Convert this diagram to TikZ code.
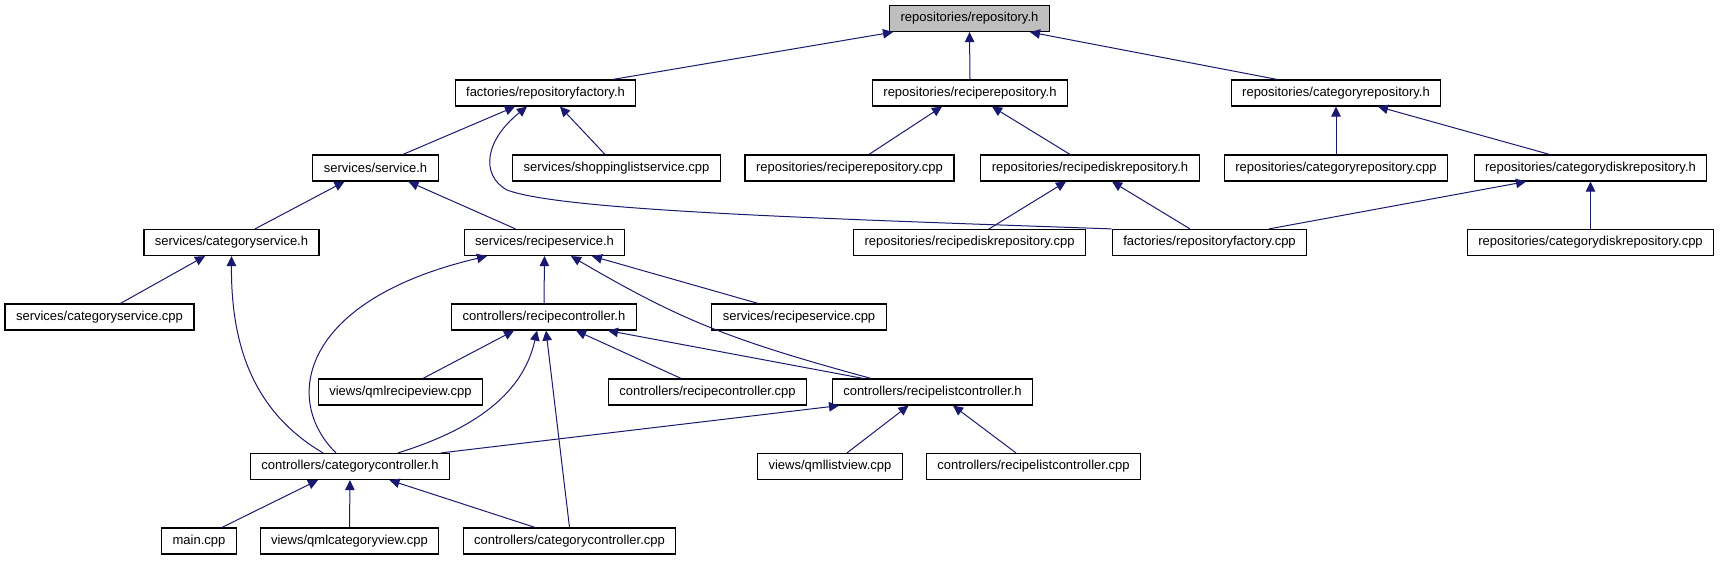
\documentclass[tikz,border=0pt]{standalone}
\usepackage{fontspec}
\setmainfont{Liberation Sans}
\usetikzlibrary{arrows.meta}
\definecolor{edgeblue}{HTML}{191970}
\definecolor{focusgray}{HTML}{BFBFBF}
\begin{document}
\begin{tikzpicture}[x=1pt,y=-1pt,file/.style={rectangle,draw,line width=1.2pt,fill=white,minimum height=26pt,inner xsep=11pt,inner ysep=0pt,font=\fontsize{13}{15}\selectfont},focus/.style={file,fill=focusgray},dep/.style={draw=edgeblue,line width=1pt,-{Triangle[length=10pt,width=9.5pt]}}]
\useasboundingbox (0,0) rectangle (1721,560);
\node[focus] (repo) at (969.5,18.5) {repositories/repository.h};
\node[file] (rfh) at (545.5,93) {factories/repositoryfactory.h};
\node[file] (rrh) at (970,93) {repositories/reciperepository.h};
\node[file] (crh) at (1336,93) {repositories/categoryrepository.h};
\node[file] (svh) at (375.5,168) {services/service.h};
\node[file] (slcpp) at (616.5,168) {services/shoppinglistservice.cpp};
\node[file] (rrcpp) at (849.5,168) {repositories/reciperepository.cpp};
\node[file] (rdrh) at (1090,168) {repositories/recipediskrepository.h};
\node[file] (crcpp) at (1336,168) {repositories/categoryrepository.cpp};
\node[file] (cdrh) at (1590.5,168) {repositories/categorydiskrepository.h};
\node[file] (csh) at (231.5,242.5) {services/categoryservice.h};
\node[file] (rsh) at (544.5,242.5) {services/recipeservice.h};
\node[file] (rdrcpp) at (969.5,242.5) {repositories/recipediskrepository.cpp};
\node[file] (rfcpp) at (1209.5,242.5) {factories/repositoryfactory.cpp};
\node[file] (cdrcpp) at (1590.5,242.5) {repositories/categorydiskrepository.cpp};
\node[file] (cscpp) at (99.5,317) {services/categoryservice.cpp};
\node[file] (rch) at (544,317) {controllers/recipecontroller.h};
\node[file] (rscpp) at (799,317) {services/recipeservice.cpp};
\node[file] (qrv) at (400.5,392) {views/qmlrecipeview.cpp};
\node[file] (rccpp) at (707.5,392) {controllers/recipecontroller.cpp};
\node[file] (rlch) at (932.5,392) {controllers/recipelistcontroller.h};
\node[file] (cch) at (350,466.5) {controllers/categorycontroller.h};
\node[file] (qlv) at (830,466.5) {views/qmllistview.cpp};
\node[file] (rlccpp) at (1033.5,466.5) {controllers/recipelistcontroller.cpp};
\node[file] (maincpp) at (199,541) {main.cpp};
\node[file] (qcv) at (349.5,541) {views/qmlcategoryview.cpp};
\node[file] (cccpp) at (569.5,541) {controllers/categorycontroller.cpp};
% repository headers
\draw[dep] ([xshift=67.5]rfh.north) -- ([xshift=-76.5]repo.south);
\draw[dep] (rrh.north) -- (repo.south);
\draw[dep] ([xshift=-59]crh.north) -- ([xshift=60.5]repo.south);
\draw[dep] ([xshift=19.5]rrcpp.north) -- ([xshift=-28]rrh.south);
\draw[dep] ([xshift=-20]rdrh.north) -- ([xshift=22]rrh.south);
\draw[dep] (crcpp.north) -- (crh.south);
\draw[dep] ([xshift=-41]cdrh.north) -- ([xshift=42]crh.south);
\draw[dep] ([xshift=19.5]rdrcpp.north) -- ([xshift=-24]rdrh.south);
\draw[dep] ([xshift=-19.5]rfcpp.north) -- ([xshift=22]rdrh.south);
\draw[dep] ([xshift=59.5]rfcpp.north) -- ([xshift=-64.5]cdrh.south);
\draw[dep] (cdrcpp.north) -- (cdrh.south);
% factory
\draw[dep] ([xshift=27.5]svh.north) -- ([xshift=-30.5]rfh.south);
\draw[dep] ([xshift=-11.5]slcpp.north) -- ([xshift=14.5]rfh.south);
\draw[dep] (rfcpp.north west) .. controls (800,218) and (560,210) .. (507,190) .. controls (480,175) and (485,140) .. ([xshift=-18.5]rfh.south);
% services
\draw[dep] ([xshift=23.5]csh.north) -- ([xshift=-31]svh.south);
\draw[dep] ([xshift=-29]rsh.north) -- ([xshift=33]svh.south);
\draw[dep] ([xshift=21]cscpp.north) -- ([xshift=-26.5]csh.south);
\draw[dep] ([xshift=-27]cch.north) .. controls (250,410) and (231,340) .. (csh.south);
\draw[dep] ([xshift=-14]cch.north) .. controls (282,400) and (300,300) .. ([xshift=-57.5]rsh.south);
\draw[dep] (rch.north) -- (rsh.south);
\draw[dep] ([xshift=-61.5]rlch.north) .. controls (730,340) and (680,320) .. ([xshift=26.5]rsh.south);
\draw[dep] ([xshift=-41]rscpp.north) -- ([xshift=47.5]rsh.south);
% controllers
\draw[dep] ([xshift=22.5]qrv.north) -- ([xshift=-30]rch.south);
\draw[dep] ([xshift=48]cch.north) .. controls (488,425) and (525,385) .. ([xshift=-7]rch.south);
\draw[dep] (cccpp.north) -- ([xshift=2]rch.south);
\draw[dep] ([xshift=-26.5]rccpp.north) -- ([xshift=32]rch.south);
\draw[dep] ([xshift=-69.5]rlch.north) -- ([xshift=64]rch.south);
\draw[dep] ([xshift=91]cch.north) -- ([xshift=-93.5]rlch.south);
\draw[dep] ([xshift=17]qlv.north) -- ([xshift=-24]rlch.south);
\draw[dep] ([xshift=-17.5]rlccpp.north) -- ([xshift=20.5]rlch.south);
\draw[dep] ([xshift=23]maincpp.north) -- ([xshift=-32]cch.south);
\draw[dep] (qcv.north) -- (cch.south);
\draw[dep] ([xshift=-34.5]cccpp.north) -- ([xshift=39.5]cch.south);
\end{tikzpicture}
\end{document}
